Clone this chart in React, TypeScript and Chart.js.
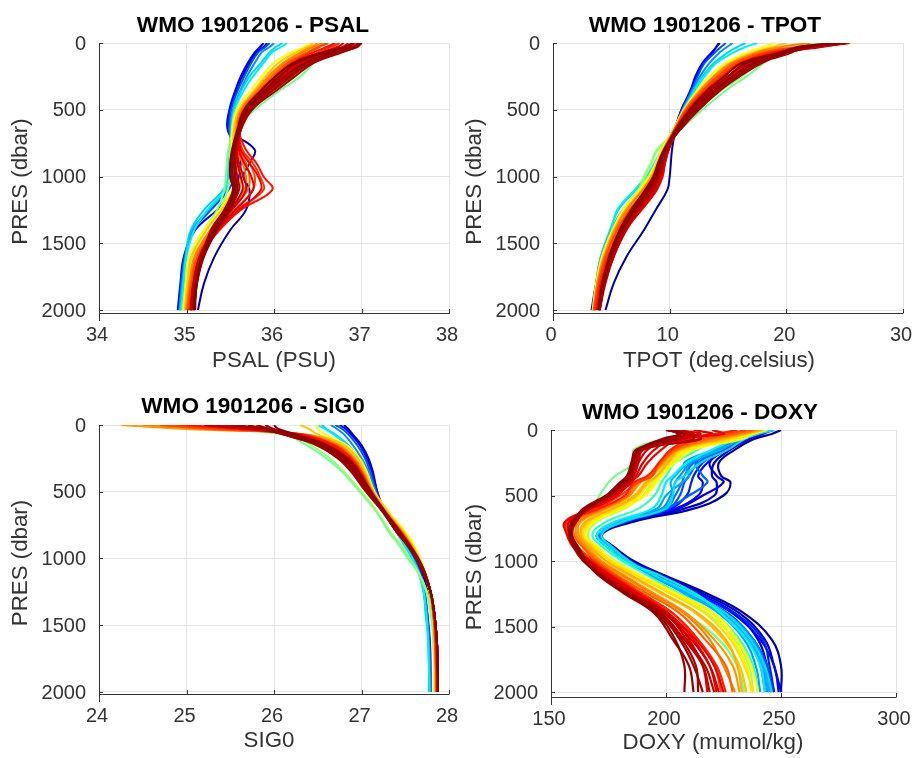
import React, { useEffect, useRef } from "react";
import { Chart, registerables } from "chart.js";

Chart.register(...registerables);

const wmoTitle = "WMO 1901206";
const pressureTicks = [0, 500, 1000, 1500, 2000];

const commonLevels = [0, 30, 70, 150, 250, 350, 500, 650, 800, 900, 1000, 1100, 1250, 1400, 1600, 1800, 2000];
const doxyLevels = [0, 30, 70, 150, 250, 350, 400, 500, 600, 700, 800, 900, 1000, 1100, 1250, 1400, 1600, 1800, 2000];

const commonColors = [
  "#0000a8", "#0000ff", "#0050ff", "#0090ff", "#00d0ff", "#00f0f0", "#70ff90", "#90ff70",
  "#ffff00", "#ffc800", "#ff9800", "#ff8000", "#ff6000", "#ff4800", "#ff3000", "#ff1000",
  "#f00000", "#e00000", "#d80000", "#c80000", "#c00000", "#b00000", "#a80000", "#a00000", "#980000", "#900000", "#880000",
];
const doxyColors = [
  "#0000a8", "#0000c8", "#0000e0", "#0000ff", "#0020ff", "#0050ff", "#0060ff", "#0070ff", "#0090ff", "#00a0ff", "#00b0ff", "#00e0ff", "#00f0f0",
  "#30ffc0", "#70ff90", "#b0ff50", "#ffff00", "#fff000", "#ffe000", "#ffc000", "#ffb000", "#ff9800", "#ff8000", "#ff6000", "#ff4000", "#ff2000",
  "#f00000", "#e80000", "#d80000", "#cc0000", "#c00000", "#b80000", "#a80000", "#a00000", "#980000", "#900000",
];

const psalProfiles = [
  [35.92, 35.88, 35.8, 35.72, 35.64, 35.58, 35.5, 35.5, 35.78, 35.72, 35.65, 35.72, 35.68, 35.5, 35.32, 35.2, 35.13],
  [35.88, 35.84, 35.78, 35.7, 35.62, 35.56, 35.49, 35.47, 35.6, 35.62, 35.6, 35.55, 35.35, 35.1, 34.97, 34.93, 34.9],
  [35.95, 35.9, 35.82, 35.74, 35.66, 35.59, 35.51, 35.49, 35.55, 35.55, 35.55, 35.48, 35.28, 35.08, 34.98, 34.94, 34.92],
  [36.0, 35.95, 35.86, 35.78, 35.69, 35.62, 35.53, 35.5, 35.52, 35.54, 35.52, 35.45, 35.25, 35.07, 34.99, 34.95, 34.92],
  [36.1, 36.02, 35.95, 35.85, 35.72, 35.63, 35.54, 35.51, 35.5, 35.5, 35.48, 35.42, 35.2, 35.05, 34.99, 34.96, 34.93],
  [36.15, 36.08, 35.98, 35.88, 35.76, 35.66, 35.55, 35.52, 35.5, 35.48, 35.47, 35.44, 35.24, 35.09, 35.0, 34.97, 34.94],
  [36.7, 36.6, 36.55, 36.45, 36.3, 36.08, 35.78, 35.55, 35.48, 35.46, 35.45, 35.43, 35.35, 35.2, 35.05, 35.0, 34.97],
  [36.6, 36.5, 36.45, 36.38, 36.22, 36.02, 35.74, 35.57, 35.5, 35.5, 35.5, 35.47, 35.38, 35.22, 35.06, 35.01, 34.98],
  [36.4, 36.35, 36.2, 36.0, 35.86, 35.74, 35.57, 35.52, 35.52, 35.54, 35.55, 35.52, 35.38, 35.2, 35.03, 34.99, 34.96],
  [36.45, 36.38, 36.25, 36.05, 35.9, 35.78, 35.6, 35.54, 35.54, 35.56, 35.57, 35.55, 35.4, 35.23, 35.06, 35.01, 34.98],
  [36.5, 36.42, 36.3, 36.1, 35.93, 35.8, 35.62, 35.56, 35.56, 35.6, 35.62, 35.6, 35.44, 35.27, 35.09, 35.03, 34.99],
  [36.55, 36.45, 36.33, 36.12, 35.95, 35.82, 35.63, 35.57, 35.58, 35.64, 35.68, 35.66, 35.47, 35.28, 35.1, 35.04, 35.0],
  [36.6, 36.5, 36.38, 36.15, 35.98, 35.84, 35.64, 35.58, 35.6, 35.68, 35.72, 35.7, 35.5, 35.3, 35.12, 35.05, 35.01],
  [36.62, 36.52, 36.4, 36.17, 36.0, 35.85, 35.65, 35.59, 35.62, 35.72, 35.78, 35.76, 35.55, 35.33, 35.13, 35.06, 35.02],
  [36.75, 36.65, 36.5, 36.24, 36.05, 35.9, 35.68, 35.6, 35.64, 35.76, 35.84, 35.88, 35.58, 35.35, 35.15, 35.07, 35.03],
  [36.7, 36.6, 36.45, 36.2, 36.02, 35.87, 35.66, 35.6, 35.68, 35.8, 35.88, 35.98, 35.62, 35.38, 35.16, 35.08, 35.04],
  [36.8, 36.72, 36.55, 36.28, 36.08, 35.92, 35.69, 35.61, 35.62, 35.72, 35.82, 35.85, 35.6, 35.36, 35.17, 35.09, 35.05],
  [36.85, 36.78, 36.58, 36.3, 36.1, 35.93, 35.7, 35.61, 35.6, 35.66, 35.74, 35.76, 35.56, 35.34, 35.16, 35.08, 35.05],
  [36.9, 36.85, 36.62, 36.32, 36.12, 35.95, 35.7, 35.62, 35.58, 35.6, 35.65, 35.68, 35.52, 35.32, 35.15, 35.08, 35.05],
  [36.92, 36.86, 36.65, 36.35, 36.14, 35.96, 35.71, 35.62, 35.57, 35.58, 35.62, 35.64, 35.5, 35.31, 35.15, 35.08, 35.05],
  [36.95, 36.9, 36.7, 36.38, 36.16, 35.98, 35.72, 35.62, 35.56, 35.56, 35.58, 35.6, 35.48, 35.3, 35.16, 35.09, 35.06],
  [36.97, 36.9, 36.72, 36.4, 36.18, 35.99, 35.72, 35.61, 35.55, 35.54, 35.56, 35.58, 35.47, 35.3, 35.17, 35.1, 35.07],
  [37.0, 36.95, 36.75, 36.42, 36.2, 36.0, 35.73, 35.61, 35.54, 35.52, 35.52, 35.55, 35.45, 35.3, 35.18, 35.11, 35.08],
  [37.0, 36.94, 36.78, 36.45, 36.24, 36.04, 35.75, 35.62, 35.53, 35.5, 35.5, 35.53, 35.43, 35.28, 35.18, 35.11, 35.08],
  [36.98, 36.92, 36.6, 36.26, 36.06, 35.9, 35.68, 35.59, 35.53, 35.52, 35.53, 35.56, 35.48, 35.33, 35.19, 35.12, 35.09],
  [37.0, 36.92, 36.68, 36.35, 36.12, 35.94, 35.7, 35.6, 35.55, 35.55, 35.55, 35.58, 35.5, 35.35, 35.2, 35.12, 35.09],
  [36.9, 36.8, 36.55, 36.22, 36.02, 35.86, 35.66, 35.58, 35.52, 35.5, 35.5, 35.54, 35.46, 35.32, 35.18, 35.11, 35.1],
];

const tpotProfiles = [
  [14.3, 14.0, 13.7, 12.9, 12.3, 11.9, 11.0, 10.5, 10.2, 10.1, 10.0, 9.8, 8.8, 7.8, 6.3, 5.2, 4.5],
  [14.2, 14.0, 13.6, 12.8, 12.2, 11.8, 11.0, 10.4, 9.9, 9.6, 9.3, 8.6, 7.0, 5.5, 4.3, 3.7, 3.3],
  [14.8, 14.4, 13.9, 13.0, 12.4, 11.9, 11.1, 10.4, 9.7, 9.2, 8.8, 8.1, 6.5, 5.2, 4.2, 3.7, 3.4],
  [15.4, 14.9, 14.3, 13.4, 12.6, 12.0, 11.1, 10.4, 9.5, 9.0, 8.4, 7.6, 6.0, 5.0, 4.1, 3.7, 3.4],
  [16.5, 15.8, 15.0, 13.8, 12.8, 12.1, 11.2, 10.3, 9.4, 8.8, 8.1, 7.1, 5.6, 4.9, 4.1, 3.7, 3.5],
  [17.5, 16.5, 15.5, 14.0, 13.0, 12.2, 11.2, 10.3, 9.3, 8.7, 8.0, 7.0, 5.5, 5.0, 4.2, 3.8, 3.5],
  [23.0, 21.0, 19.5, 18.1, 16.6, 14.9, 12.8, 10.9, 9.0, 8.4, 7.8, 7.3, 6.0, 5.2, 4.4, 3.9, 3.6],
  [22.0, 20.5, 19.0, 17.6, 16.2, 14.5, 12.5, 10.8, 8.9, 8.4, 7.9, 7.4, 6.2, 5.3, 4.4, 3.9, 3.6],
  [19.0, 18.0, 16.7, 14.8, 13.4, 12.4, 11.2, 10.3, 9.3, 8.8, 8.2, 7.4, 6.0, 5.1, 4.2, 3.7, 3.4],
  [20.0, 18.8, 17.2, 15.1, 13.7, 12.6, 11.3, 10.4, 9.4, 8.9, 8.4, 7.6, 6.2, 5.2, 4.3, 3.8, 3.5],
  [25.5, 21.0, 17.8, 15.5, 14.0, 12.8, 11.4, 10.4, 9.5, 9.0, 8.6, 7.8, 6.4, 5.4, 4.4, 3.8, 3.5],
  [22.0, 19.5, 17.5, 15.3, 13.8, 12.7, 11.3, 10.4, 9.5, 9.0, 8.5, 7.7, 6.3, 5.3, 4.4, 3.8, 3.5],
  [24.0, 21.5, 18.4, 15.8, 14.3, 13.0, 11.5, 10.5, 9.6, 9.2, 8.8, 8.1, 6.7, 5.6, 4.6, 3.9, 3.6],
  [24.5, 21.2, 18.1, 15.6, 14.1, 12.9, 11.4, 10.4, 9.5, 9.1, 8.7, 8.0, 6.6, 5.5, 4.5, 3.9, 3.5],
  [25.0, 21.8, 18.7, 16.0, 14.4, 13.1, 11.5, 10.5, 9.7, 9.3, 9.0, 8.3, 7.0, 5.8, 4.7, 4.0, 3.6],
  [25.0, 22.0, 19.0, 16.1, 14.6, 13.2, 11.6, 10.5, 9.8, 9.4, 9.1, 8.5, 7.2, 5.9, 4.8, 4.1, 3.7],
  [25.3, 22.5, 19.5, 16.5, 15.0, 13.5, 11.8, 10.6, 9.9, 9.6, 9.4, 8.9, 7.6, 6.2, 5.0, 4.3, 3.8],
  [25.4, 22.7, 19.7, 16.8, 15.1, 13.6, 11.9, 10.6, 9.9, 9.5, 9.3, 8.7, 7.4, 6.1, 5.1, 4.3, 3.8],
  [25.0, 23.0, 20.0, 17.0, 15.3, 13.8, 12.0, 10.7, 9.9, 9.5, 9.2, 8.8, 7.5, 6.3, 5.2, 4.4, 3.9],
  [25.1, 22.5, 20.1, 17.2, 15.4, 13.9, 12.1, 10.7, 9.9, 9.5, 9.2, 8.6, 7.4, 6.2, 5.2, 4.4, 3.9],
  [25.2, 22.0, 20.3, 17.4, 15.6, 14.0, 12.2, 10.8, 9.8, 9.4, 9.1, 8.5, 7.3, 6.2, 5.2, 4.5, 4.0],
  [25.2, 22.0, 20.4, 17.5, 15.7, 14.1, 12.3, 10.8, 9.8, 9.3, 9.0, 8.4, 7.2, 6.1, 5.1, 4.4, 4.0],
  [25.0, 21.0, 20.5, 17.7, 15.8, 14.2, 12.4, 10.8, 9.7, 9.3, 9.0, 8.3, 7.0, 6.0, 5.0, 4.4, 4.0],
  [24.8, 21.5, 20.0, 17.9, 16.0, 14.4, 12.5, 10.9, 9.6, 9.1, 8.7, 8.1, 6.9, 5.9, 5.0, 4.4, 4.0],
  [24.6, 21.8, 19.8, 16.6, 15.0, 13.6, 11.9, 10.6, 9.5, 9.0, 8.6, 7.9, 6.7, 5.7, 4.8, 4.3, 3.9],
  [24.5, 22.0, 20.2, 17.2, 15.4, 13.9, 12.1, 10.7, 9.6, 9.2, 8.8, 8.0, 6.8, 5.8, 4.9, 4.3, 3.9],
  [24.5, 21.0, 19.5, 16.2, 14.7, 13.3, 11.7, 10.5, 9.6, 9.1, 8.8, 8.2, 7.0, 5.9, 4.9, 4.2, 3.9],
];

const sig0Profiles = [
  [26.8, 26.85, 26.9, 27.0, 27.08, 27.13, 27.18, 27.27, 27.42, 27.53, 27.62, 27.69, 27.76, 27.8, 27.83, 27.84, 27.85],
  [26.75, 26.82, 26.88, 26.98, 27.06, 27.12, 27.18, 27.26, 27.4, 27.5, 27.6, 27.67, 27.72, 27.75, 27.78, 27.79, 27.79],
  [26.7, 26.78, 26.85, 26.95, 27.04, 27.1, 27.17, 27.26, 27.4, 27.5, 27.59, 27.66, 27.72, 27.75, 27.77, 27.78, 27.79],
  [26.65, 26.72, 26.8, 26.9, 27.0, 27.08, 27.16, 27.25, 27.4, 27.5, 27.59, 27.66, 27.71, 27.74, 27.77, 27.78, 27.78],
  [26.55, 26.6, 26.7, 26.85, 26.96, 27.05, 27.15, 27.25, 27.4, 27.49, 27.58, 27.65, 27.71, 27.73, 27.76, 27.77, 27.77],
  [26.5, 26.58, 26.68, 26.83, 26.94, 27.03, 27.14, 27.25, 27.4, 27.49, 27.58, 27.65, 27.71, 27.74, 27.76, 27.77, 27.78],
  [24.6, 25.3, 26.1, 26.37, 26.6, 26.78, 26.98, 27.17, 27.31, 27.43, 27.53, 27.64, 27.74, 27.79, 27.82, 27.83, 27.83],
  [24.9, 25.5, 26.2, 26.42, 26.64, 26.8, 27.0, 27.18, 27.33, 27.45, 27.55, 27.65, 27.75, 27.8, 27.82, 27.83, 27.84],
  [26.5, 26.5, 26.58, 26.83, 26.98, 27.06, 27.15, 27.31, 27.5, 27.6, 27.67, 27.73, 27.78, 27.81, 27.83, 27.83, 27.83],
  [26.3, 26.4, 26.5, 26.8, 26.95, 27.04, 27.14, 27.3, 27.48, 27.58, 27.66, 27.72, 27.78, 27.81, 27.83, 27.84, 27.84],
  [24.25, 25.0, 26.35, 26.75, 26.92, 27.02, 27.13, 27.28, 27.47, 27.57, 27.65, 27.72, 27.78, 27.82, 27.84, 27.85, 27.85],
  [24.5, 25.2, 26.32, 26.72, 26.91, 27.01, 27.12, 27.28, 27.46, 27.56, 27.65, 27.72, 27.78, 27.82, 27.84, 27.85, 27.85],
  [24.8, 25.4, 26.3, 26.7, 26.9, 27.0, 27.12, 27.27, 27.46, 27.56, 27.65, 27.72, 27.79, 27.82, 27.85, 27.85, 27.86],
  [24.7, 25.3, 26.31, 26.68, 26.89, 27.0, 27.12, 27.27, 27.45, 27.56, 27.65, 27.72, 27.79, 27.82, 27.84, 27.85, 27.86],
  [24.9, 25.5, 26.3, 26.65, 26.87, 26.99, 27.11, 27.27, 27.45, 27.55, 27.64, 27.72, 27.79, 27.82, 27.85, 27.86, 27.86],
  [25.0, 25.6, 26.3, 26.68, 26.88, 26.99, 27.11, 27.27, 27.44, 27.55, 27.64, 27.72, 27.79, 27.83, 27.85, 27.86, 27.87],
  [25.2, 25.7, 26.25, 26.62, 26.85, 26.97, 27.1, 27.26, 27.43, 27.55, 27.64, 27.72, 27.79, 27.83, 27.86, 27.87, 27.87],
  [25.3, 25.75, 26.22, 26.6, 26.83, 26.96, 27.1, 27.26, 27.42, 27.54, 27.64, 27.72, 27.79, 27.83, 27.86, 27.87, 27.87],
  [25.4, 25.8, 26.2, 26.58, 26.82, 26.95, 27.09, 27.26, 27.42, 27.54, 27.64, 27.72, 27.79, 27.83, 27.86, 27.87, 27.87],
  [25.3, 25.8, 26.18, 26.56, 26.8, 26.93, 27.08, 27.25, 27.42, 27.54, 27.63, 27.71, 27.79, 27.83, 27.86, 27.87, 27.87],
  [25.2, 25.7, 26.15, 26.54, 26.78, 26.92, 27.07, 27.25, 27.41, 27.53, 27.63, 27.71, 27.79, 27.83, 27.86, 27.87, 27.87],
  [25.5, 25.85, 26.12, 26.52, 26.76, 26.91, 27.07, 27.25, 27.41, 27.53, 27.63, 27.71, 27.79, 27.83, 27.86, 27.87, 27.87],
  [25.6, 25.85, 26.1, 26.5, 26.75, 26.9, 27.06, 27.25, 27.4, 27.53, 27.63, 27.7, 27.79, 27.83, 27.86, 27.87, 27.88],
  [25.7, 25.9, 26.1, 26.48, 26.73, 26.88, 27.05, 27.24, 27.4, 27.52, 27.62, 27.7, 27.79, 27.83, 27.86, 27.87, 27.88],
  [25.8, 25.95, 26.15, 26.52, 26.77, 26.92, 27.08, 27.26, 27.42, 27.54, 27.64, 27.71, 27.79, 27.83, 27.86, 27.87, 27.88],
  [25.9, 26.0, 26.2, 26.55, 26.8, 26.94, 27.09, 27.26, 27.43, 27.54, 27.64, 27.71, 27.79, 27.83, 27.86, 27.87, 27.88],
  [26.0, 26.05, 26.25, 26.6, 26.84, 26.97, 27.11, 27.27, 27.44, 27.55, 27.65, 27.72, 27.79, 27.83, 27.86, 27.87, 27.88],
];

const doxyProfiles = [
  [250, 246, 238, 230, 223, 224, 228, 225, 212, 186, 172, 178, 186, 198, 218, 234, 246, 250, 250],
  [246, 242, 236, 228, 221, 220, 222, 221, 208, 183, 172, 177, 185, 197, 216, 232, 243, 247, 250],
  [244, 240, 234, 226, 219, 222, 225, 216, 205, 183, 171, 176, 184, 196, 214, 230, 240, 244, 247],
  [245, 240, 235, 226, 218, 214, 216, 214, 204, 182, 171, 176, 184, 195, 213, 229, 241, 247, 249],
  [247, 240, 233, 225, 216, 212, 211, 209, 202, 181, 172, 177, 184, 194, 212, 230, 242, 245, 247],
  [244, 238, 232, 224, 214, 210, 208, 206, 201, 181, 171, 176, 183, 193, 211, 227, 238, 244, 246],
  [245, 238, 231, 222, 213, 216, 218, 210, 200, 180, 170, 175, 182, 192, 209, 224, 236, 241, 243],
  [246, 239, 233, 223, 212, 208, 207, 204, 200, 180, 171, 175, 182, 192, 210, 225, 238, 243, 245],
  [243, 237, 231, 222, 211, 206, 204, 202, 198, 180, 170, 175, 183, 192, 210, 226, 238, 242, 244],
  [243, 236, 230, 221, 208, 210, 207, 200, 196, 178, 170, 175, 183, 193, 209, 223, 234, 239, 241],
  [245, 238, 232, 224, 210, 204, 202, 203, 199, 182, 170, 176, 183, 194, 208, 224, 236, 242, 245],
  [247, 240, 234, 227, 215, 208, 204, 203, 200, 181, 172, 177, 184, 194, 211, 226, 237, 243, 246],
  [244, 237, 230, 220, 209, 203, 200, 198, 194, 178, 170, 175, 182, 196, 213, 224, 235, 241, 243],
  [243, 230, 222, 214, 204, 200, 198, 195, 188, 174, 168, 173, 181, 191, 206, 221, 232, 238, 240],
  [244, 215, 200, 186, 186, 178, 175, 171, 168, 162, 162, 165, 172, 179, 192, 208, 223, 231, 234],
  [244, 232, 225, 210, 203, 197, 194, 190, 182, 170, 166, 170, 178, 188, 203, 218, 230, 236, 238],
  [244, 238, 233, 212, 204, 198, 196, 191, 181, 169, 165, 171, 177, 188, 205, 221, 231, 237, 240],
  [243, 236, 230, 210, 202, 197, 195, 190, 180, 168, 165, 170, 176, 187, 203, 220, 229, 235, 237],
  [243, 235, 228, 208, 201, 196, 193, 188, 178, 167, 164, 169, 176, 186, 202, 217, 228, 234, 238],
  [242, 235, 225, 206, 200, 194, 191, 186, 176, 166, 163, 168, 174, 183, 198, 213, 225, 232, 235],
  [241, 234, 224, 206, 201, 196, 192, 187, 177, 165, 163, 167, 174, 184, 199, 214, 226, 231, 233],
  [240, 233, 222, 205, 199, 193, 189, 184, 174, 163, 162, 166, 172, 181, 195, 209, 221, 229, 232],
  [239, 231, 220, 205, 198, 193, 188, 184, 173, 162, 161, 165, 171, 180, 194, 208, 219, 225, 230],
  [238, 230, 218, 204, 198, 192, 187, 183, 172, 160, 160, 164, 170, 178, 192, 206, 217, 226, 229],
  [235, 226, 214, 203, 197, 194, 188, 180, 170, 158, 158, 162, 169, 177, 190, 203, 214, 221, 224],
  [231, 222, 210, 202, 197, 192, 186, 182, 171, 157, 157, 160, 168, 176, 189, 203, 214, 222, 226],
  [220, 225, 205, 198, 192, 188, 184, 179, 168, 156, 157, 160, 166, 174, 187, 201, 212, 219, 222],
  [212, 220, 203, 195, 190, 187, 185, 178, 167, 158, 158, 161, 167, 175, 188, 201, 213, 221, 225],
  [205, 215, 200, 192, 188, 186, 185, 177, 167, 160, 158, 161, 166, 173, 186, 201, 210, 216, 218],
  [203, 212, 208, 190, 188, 186, 183, 177, 166, 160, 159, 162, 166, 173, 185, 199, 211, 219, 223],
  [201, 210, 215, 189, 187, 185, 184, 176, 166, 161, 159, 162, 166, 172, 185, 200, 209, 217, 221],
  [201, 209, 212, 190, 187, 185, 183, 175, 165, 161, 158, 161, 165, 172, 184, 198, 208, 216, 219],
  [200, 208, 205, 189, 186, 185, 182, 175, 165, 160, 158, 161, 165, 171, 184, 198, 207, 213, 214],
  [200, 207, 200, 188, 186, 184, 182, 174, 164, 160, 158, 160, 164, 171, 183, 197, 206, 212, 216],
  [201, 205, 203, 187, 185, 183, 180, 174, 165, 159, 158, 161, 165, 170, 182, 195, 203, 210, 212],
  [202, 206, 198, 188, 185, 184, 181, 175, 166, 160, 159, 162, 165, 171, 183, 196, 204, 208, 208],
];

type Panel = {
  name: string; xLabel: string; xMin: number; xMax: number; xStep: number;
  levels: number[]; profiles: number[][]; colors: string[];
  left: number; top: number; w: number; h: number;
  plotLeft: number; plotRight: number; plotTop: number; plotBottom: number; yMax: number;
  titleCenter: number; titleY: number; xLabelY: number; yLabelX: number; xLabelCenter: number;
};

const panels: Panel[] = [
  { name: "PSAL", xLabel: "PSAL (PSU)", xMin: 34, xMax: 38, xStep: 1, levels: commonLevels, profiles: psalProfiles, colors: commonColors,
    left: 0, top: 0, w: 462, h: 379, plotLeft: 99, plotRight: 449, plotTop: 43, plotBottom: 313, yMax: 2022, titleCenter: 253, titleY: 26, xLabelY: 361, yLabelX: 21, xLabelCenter: 274 },
  { name: "TPOT", xLabel: "TPOT (deg.celsius)", xMin: 0, xMax: 30, xStep: 10, levels: commonLevels, profiles: tpotProfiles, colors: commonColors,
    left: 462, top: 0, w: 455, h: 379, plotLeft: 553, plotRight: 903, plotTop: 43, plotBottom: 313, yMax: 2022, titleCenter: 705, titleY: 26, xLabelY: 361, yLabelX: 475, xLabelCenter: 719 },
  { name: "SIG0", xLabel: "SIG0", xMin: 24, xMax: 28, xStep: 1, levels: commonLevels, profiles: sig0Profiles, colors: commonColors,
    left: 0, top: 379, w: 462, h: 379, plotLeft: 99, plotRight: 449, plotTop: 425, plotBottom: 694, yMax: 2015, titleCenter: 253, titleY: 407, xLabelY: 741, yLabelX: 21, xLabelCenter: 269 },
  { name: "DOXY", xLabel: "DOXY (mumol/kg)", xMin: 150, xMax: 300, xStep: 50, levels: doxyLevels, profiles: doxyProfiles, colors: doxyColors,
    left: 462, top: 379, w: 455, h: 379, plotLeft: 551, plotRight: 896, plotTop: 430, plotBottom: 697, yMax: 2038, titleCenter: 700, titleY: 413, xLabelY: 743, yLabelX: 475, xLabelCenter: 713 },
];

const FONT = "'Liberation Sans', Arial, sans-serif";
const TITLE_SIZE = 22.6;
const LABEL_SIZE = 22.3;
const TICK_SIZE = 20;

const dropScaleMargins = (s: any) => {
  s.paddingLeft = 0;
  s.paddingRight = 0;
  s.paddingTop = 0;
  s.paddingBottom = 0;
};

function PanelChart({ p }: { p: Panel }) {
  const ref = useRef<HTMLCanvasElement>(null);
  useEffect(() => {
    if (!ref.current) return;
    const titleH = TITLE_SIZE * 1.2;
    const titleTop = p.titleY - p.top - titleH / 2;
    const areaTop = p.plotTop - p.top;
    const xH = p.top + p.h - p.plotBottom;
    const padRight = p.left + p.w - p.plotRight;
    const chart = new Chart(ref.current, {
      type: "scatter",
      data: {
        datasets: p.profiles.map((vals, i) => ({
          label: `${p.name} ${i + 1}`,
          data: vals.map((x, j) => ({ x, y: p.levels[j] })),
          showLine: true,
          borderColor: p.colors[i],
          borderWidth: p.name === "DOXY" ? 2.2 : 2,
          pointRadius: 0,
          tension: 0.4,
          fill: false,
          order: p.profiles.length - i,
        })),
      },
      options: {
        animation: false,
        responsive: false,
        layout: { autoPadding: false, padding: { top: 0, bottom: 0, left: 0, right: padRight } },
        plugins: {
          legend: { display: false },
          tooltip: { enabled: false },
          title: {
            display: true,
            text: `${wmoTitle} - ${p.name}`,
            color: "#000",
            font: { family: FONT, size: TITLE_SIZE, weight: "bold", lineHeight: 1.2 },
            padding: { top: titleTop, bottom: areaTop - titleTop - titleH },
          },
        },
        scales: {
          x: {
            type: "linear",
            min: p.xMin,
            max: p.xMax,
            ticks: { stepSize: p.xStep, color: "#333", padding: 10, labelOffset: -2, maxRotation: 0, font: { family: FONT, size: TICK_SIZE } },
            grid: { color: "#e4e4e4", lineWidth: 1, drawTicks: false },
            border: { color: "#333", width: 1 },
            title: {
              display: true, text: p.xLabel, color: "#333",
              font: { family: FONT, size: LABEL_SIZE, lineHeight: 1.2 },
              padding: { top: 0, bottom: p.top + p.h - p.xLabelY - (LABEL_SIZE * 1.2) / 2 },
            },
            afterFit: (s: any) => { s.height = xH; dropScaleMargins(s); },
          },
          y: {
            type: "linear",
            reverse: true,
            min: 0,
            max: p.yMax,
            afterBuildTicks: (s: any) => { s.ticks = pressureTicks.map((value) => ({ value })); },
            ticks: { color: "#333", padding: 13, labelOffset: 1, callback: (v: any) => String(v), font: { family: FONT, size: TICK_SIZE } },
            grid: { color: "#e4e4e4", lineWidth: 1, drawTicks: false },
            border: { color: "#333", width: 1 },
            title: {
              display: true, text: "PRES (dbar)", color: "#333",
              font: { family: FONT, size: LABEL_SIZE, lineHeight: 1.2 },
              padding: { top: p.yLabelX - p.left - (LABEL_SIZE * 1.2) / 2, bottom: 0 },
            },
            afterFit: (s: any) => { s.width = p.plotLeft - p.left; dropScaleMargins(s); },
          },
        },
      },
      plugins: [
        {
          id: "panelFrame",
          afterLayout(c: any) {
            const dx = p.titleCenter - (p.left + (p.w - padRight) / 2);
            c.titleBlock.left += dx;
            c.titleBlock.right += dx;
            // MATLAB centres the axis labels a little away from the plot box centre
            c.scales.y.bottom += 7;
            c.scales.x.right += 2 * (p.xLabelCenter - (p.plotLeft + p.plotRight) / 2);
          },
          afterDatasetsDraw(c: any) {
            const ctx = c.ctx;
            const { left, right, bottom } = c.chartArea;
            ctx.save();
            ctx.strokeStyle = "#333";
            ctx.lineWidth = 1;
            ctx.beginPath();
            const axisY = Math.round(bottom) + 0.5;
            ctx.moveTo(left, axisY);
            ctx.lineTo(right + 0.5, axisY);
            c.scales.y.ticks.forEach((t: any) => {
              const y = Math.round(c.scales.y.getPixelForValue(t.value)) + 0.5;
              ctx.moveTo(left, y);
              ctx.lineTo(left + 4, y);
            });
            c.scales.x.ticks.forEach((t: any) => {
              const x = Math.round(c.scales.x.getPixelForValue(t.value)) + 0.5;
              ctx.moveTo(x, bottom);
              ctx.lineTo(x, bottom - 4);
            });
            ctx.stroke();
            ctx.restore();
          },
        },
      ],
    } as any);
    return () => chart.destroy();
  }, [p]);
  return (
    <canvas
      ref={ref}
      width={p.w}
      height={p.h}
      style={{ position: "absolute", left: p.left, top: p.top, width: p.w, height: p.h }}
    />
  );
}

export default function App() {
  return (
    <div style={{ position: "absolute", left: 0, top: 0, width: 917, height: 758, background: "#fff", overflow: "hidden" }}>
      {panels.map((p) => (
        <PanelChart key={p.name} p={p} />
      ))}
    </div>
  );
}
